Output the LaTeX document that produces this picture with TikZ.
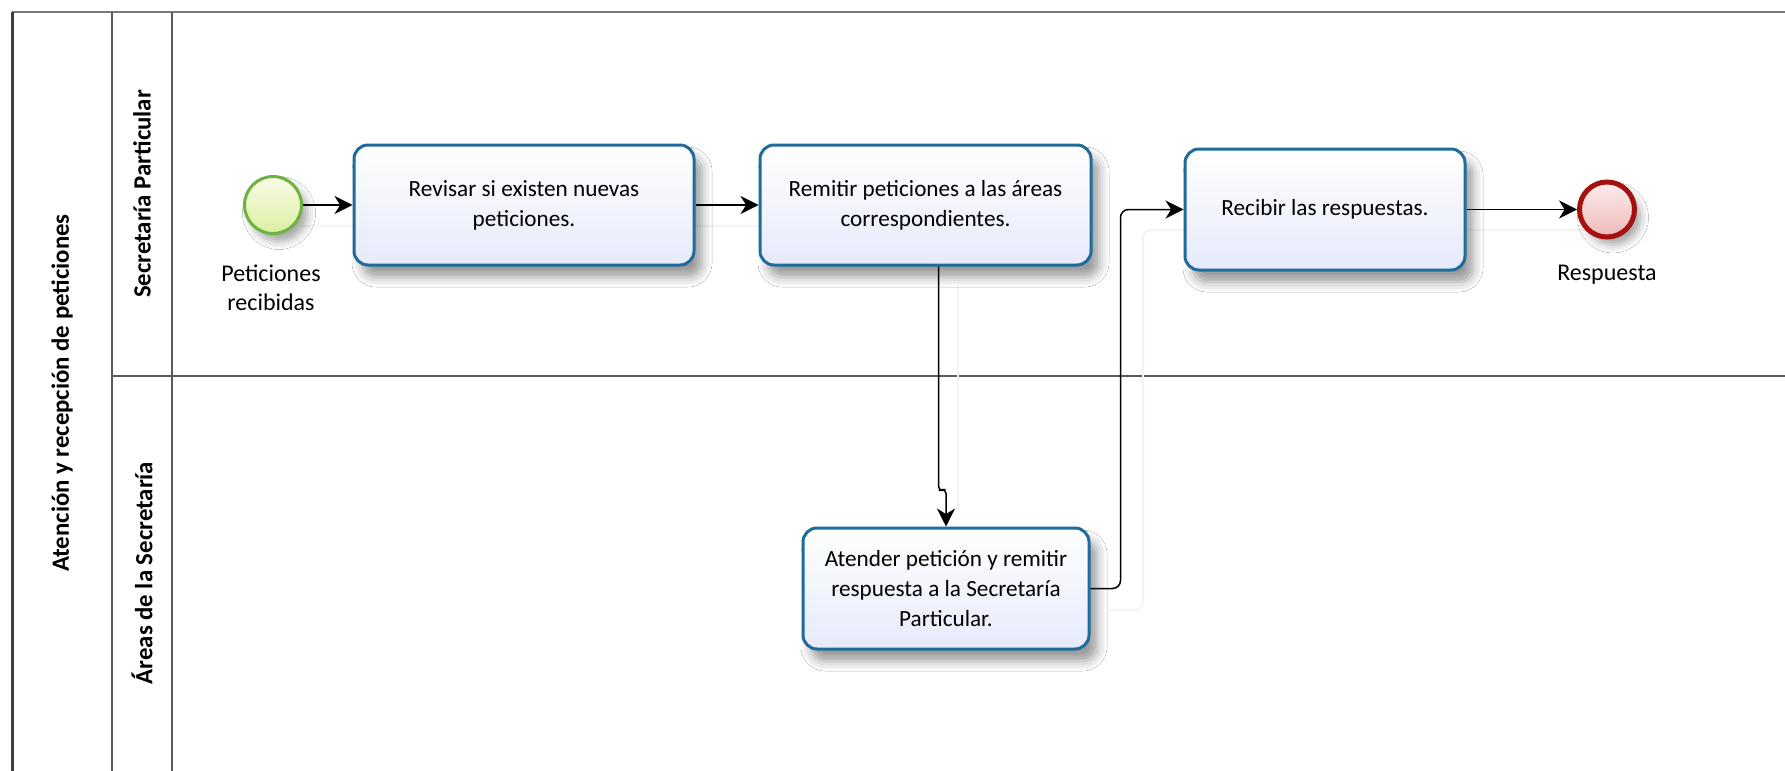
\documentclass[tikz,border=0pt]{standalone}
\usepackage{fontspec}
\setmainfont{Carlito}
\usetikzlibrary{arrows.meta,shadows.blur,calc}
\definecolor{lanegray}{HTML}{5A5A5A}
\definecolor{topgray}{HTML}{7A7A7A}
\definecolor{taskblue}{HTML}{1F6B9C}
\definecolor{taskfill}{HTML}{E6EAFA}
\definecolor{startgreen}{HTML}{6DB33F}
\definecolor{startfillA}{HTML}{F8FCE6}
\definecolor{startfillB}{HTML}{DCEFA2}
\definecolor{endred}{HTML}{A51010}
\definecolor{endfillA}{HTML}{FCEDED}
\definecolor{endfillB}{HTML}{EDB8B8}
\definecolor{flowshadow}{HTML}{F4F4F4}
\begin{document}
\begin{tikzpicture}[x=0.5pt,y=-0.5pt,
  lane/.style={draw=lanegray, line width=1pt},
  evshadow/.style={blur shadow={shadow xshift=3pt, shadow yshift=-4pt, shadow blur radius=4pt, shadow opacity=35}},
  task/.style={draw=taskblue, line width=1.5pt, rounded corners=7pt, top color=white, bottom color=taskfill,
    align=center, inner sep=0pt, font=\fontsize{11.6}{15}\selectfont,
    blur shadow={shadow xshift=4pt, shadow yshift=-6pt, shadow blur radius=5pt, shadow opacity=40}},
  startev/.style={circle, draw=startgreen, line width=1.5pt, minimum size=28.5pt, inner sep=0pt,
    top color=startfillA, bottom color=startfillB, evshadow},
  endev/.style={circle, draw=endred, line width=2.5pt, minimum size=27.5pt, inner sep=0pt,
    top color=endfillA, bottom color=endfillB, evshadow},
  evlabel/.style={align=center, font=\fontsize{12}{14.5}\selectfont},
  lanelabel/.style={rotate=90, font=\bfseries\fontsize{12.4}{14}\selectfont},
  flow/.style={draw=black, line width=0.75pt, rounded corners=2.5pt, -{Stealth[length=9pt,width=9pt,inset=2.8pt]}},
  flowsh/.style={draw=flowshadow, line width=1pt, rounded corners=4pt}
]
\useasboundingbox (0,0) rectangle (1785,771);
\fill[white] (0,0) rectangle (1785,771);

% pool and lanes
\draw[draw=topgray, line width=1pt] (12,12) -- (1785,12);
\draw[draw=black!75, line width=1.5pt] (12,771) -- (12,11.5);
\draw[lane] (112,12) -- (112,771);
\draw[lane] (172,12) -- (172,771);
\draw[lane] (112,376) -- (1785,376);

\node[lanelabel] (pool) at (62,393) {Atención y recepción de peticiones};
\node[lanelabel] (lane1) at (142,194) {Secretaría Particular};
\node[lanelabel] (lane2) at (142,573) {Áreas de la Secretaría};

% connector shadows
\draw[flowsh] (300,226) -- (354,226);
\draw[flowsh] (694,226) -- (760,226);
\draw[flowsh] (958,285) -- (958,510);
\draw[flowsh] (1109,610) -- (1143,610) -- (1143,230) -- (1185,230);
\draw[flowsh] (1465,230) -- (1590,230);

% events and tasks
\node[startev] (s) at (273,205) {};
\node[evlabel] (slbl) at (271,288) {Peticiones\\recibidas};

\node[task, minimum width=170pt, minimum height=60pt] (t1) at (524,205)
  {Revisar si existen nuevas\\peticiones.};
\node[task, minimum width=165.5pt, minimum height=60pt] (t2) at (925.5,205)
  {Remitir peticiones a las áreas\\correspondientes.};
\node[task, minimum width=140pt, minimum height=60.5pt] (t3) at (1325,209.5)
  {Recibir las respuestas.};
\node[task, minimum width=143pt, minimum height=60.5pt] (t4) at (946,588.5)
  {Atender petición y remitir\\respuesta a la Secretaría\\Particular.};

\node[endev] (e) at (1607,209.5) {};
\node[evlabel] (elbl) at (1607,275) {Respuesta};

% connectors
\draw[flow] (s.east) -- (t1.west);
\draw[flow] (t1.east) -- (t2.west);
\draw[flow] ($(t2.south)+(13,0)$) -- ($(t2.south)+(13,225)$) -- ($(t4.north)+(0,-38)$) -- (t4.north);
\draw[flow, rounded corners=4pt] (t4.east) -| ($(t3.west)+(-63,0)$) -- (t3.west);
\draw[flow] (t3.east) -- (e.west);
\end{tikzpicture}
\end{document}
